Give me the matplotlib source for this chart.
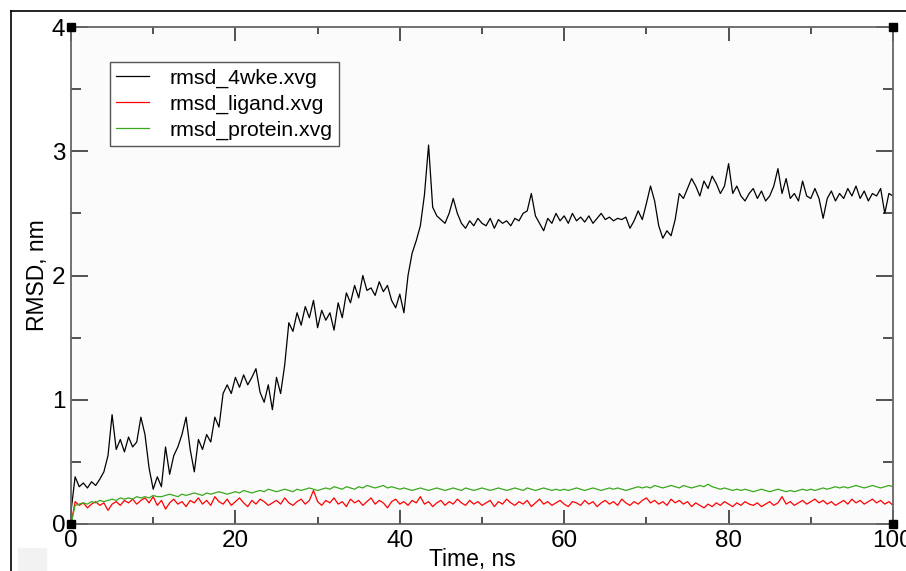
import numpy as np
import matplotlib.pyplot as plt
from matplotlib.lines import Line2D
from matplotlib.patches import Rectangle

plt.rcParams['font.family'] = ['Liberation Sans', 'DejaVu Sans']

# RMSD DATA (nm), one value every 0.5 ns from 0 to 100 ns
rmsd_4wke = [
    0.10, 0.38, 0.30, 0.33, 0.29, 0.34, 0.31, 0.36, 0.42, 0.55,
    0.88, 0.60, 0.68, 0.58, 0.70, 0.62, 0.66, 0.86, 0.72, 0.45,
    0.28, 0.38, 0.30, 0.62, 0.40, 0.55, 0.62, 0.72, 0.86, 0.60,
    0.42, 0.68, 0.60, 0.72, 0.66, 0.86, 0.78, 1.05, 1.12, 1.05,
    1.18, 1.10, 1.20, 1.12, 1.18, 1.25, 1.06, 0.98, 1.12, 0.92,
    1.18, 1.05, 1.28, 1.62, 1.55, 1.70, 1.60, 1.75, 1.66, 1.80,
    1.58, 1.72, 1.64, 1.70, 1.56, 1.78, 1.66, 1.86, 1.78, 1.92,
    1.82, 2.00, 1.88, 1.90, 1.84, 1.95, 1.87, 1.92, 1.80, 1.74,
    1.85, 1.70, 2.00, 2.18, 2.28, 2.40, 2.65, 3.05, 2.55, 2.48,
    2.45, 2.42, 2.50, 2.62, 2.50, 2.42, 2.38, 2.44, 2.40, 2.46,
    2.42, 2.40, 2.46, 2.38, 2.45, 2.42, 2.44, 2.40, 2.46, 2.44,
    2.50, 2.52, 2.66, 2.48, 2.42, 2.36, 2.46, 2.42, 2.50, 2.44,
    2.48, 2.42, 2.50, 2.44, 2.47, 2.43, 2.48, 2.42, 2.46, 2.50,
    2.45, 2.47, 2.44, 2.46, 2.45, 2.47, 2.38, 2.44, 2.52, 2.45,
    2.58, 2.72, 2.60, 2.40, 2.30, 2.36, 2.32, 2.45, 2.66, 2.62,
    2.70, 2.78, 2.72, 2.64, 2.76, 2.70, 2.80, 2.74, 2.66, 2.72,
    2.90, 2.66, 2.72, 2.64, 2.60, 2.66, 2.70, 2.62, 2.68, 2.60,
    2.64, 2.72, 2.86, 2.66, 2.78, 2.62, 2.66, 2.60, 2.76, 2.64,
    2.62, 2.70, 2.62, 2.46, 2.62, 2.68, 2.60, 2.66, 2.62, 2.70,
    2.64, 2.72, 2.62, 2.68, 2.60, 2.66, 2.64, 2.70, 2.50, 2.66,
    2.64,
]

rmsd_ligand = [
    0.00, 0.18, 0.15, 0.17, 0.13, 0.16, 0.18, 0.15, 0.17, 0.11,
    0.16, 0.18, 0.15, 0.19, 0.17, 0.20, 0.16, 0.19, 0.21, 0.17,
    0.22, 0.15, 0.19, 0.12, 0.17, 0.20, 0.16, 0.18, 0.14, 0.19,
    0.17, 0.21, 0.16, 0.19, 0.15, 0.22, 0.18, 0.16, 0.20, 0.15,
    0.18, 0.21, 0.17, 0.14, 0.19, 0.16, 0.20, 0.18, 0.15, 0.17,
    0.19, 0.16, 0.21, 0.17, 0.15, 0.18, 0.20, 0.16, 0.19, 0.27,
    0.18, 0.15, 0.19, 0.17, 0.21, 0.16, 0.18, 0.14, 0.20, 0.17,
    0.19, 0.15, 0.18, 0.21, 0.16, 0.19, 0.17, 0.13, 0.18, 0.20,
    0.16, 0.18, 0.15, 0.19, 0.17, 0.22, 0.16, 0.18, 0.14, 0.17,
    0.19, 0.15, 0.18, 0.16, 0.20, 0.17, 0.15, 0.19, 0.16, 0.18,
    0.15, 0.17, 0.19, 0.14, 0.18, 0.16, 0.20, 0.17, 0.15, 0.18,
    0.16, 0.19, 0.14, 0.17, 0.20, 0.16, 0.18, 0.15, 0.17, 0.19,
    0.16, 0.14, 0.18, 0.17, 0.15, 0.19, 0.16, 0.18, 0.14, 0.17,
    0.19, 0.16, 0.18, 0.15, 0.20, 0.17, 0.15, 0.18, 0.16, 0.19,
    0.21, 0.17, 0.19, 0.16, 0.18, 0.15, 0.20, 0.17, 0.19, 0.16,
    0.18, 0.14, 0.17, 0.15, 0.13, 0.16, 0.14, 0.17, 0.15, 0.18,
    0.16, 0.14, 0.17, 0.15, 0.18, 0.16, 0.15, 0.17, 0.14, 0.16,
    0.18, 0.15, 0.17, 0.22, 0.16, 0.18, 0.15, 0.17, 0.19, 0.16,
    0.18, 0.20, 0.17, 0.19, 0.16, 0.18, 0.15, 0.17, 0.19, 0.16,
    0.20, 0.17, 0.19, 0.16, 0.18, 0.20, 0.17, 0.19, 0.16, 0.18,
    0.15,
]

rmsd_protein = [
    0.00, 0.15, 0.16, 0.17, 0.16, 0.18, 0.17, 0.19, 0.18, 0.19,
    0.20, 0.19, 0.21, 0.20, 0.21, 0.20, 0.22, 0.21, 0.22, 0.21,
    0.23, 0.22, 0.22, 0.23, 0.24, 0.23, 0.22, 0.24, 0.23, 0.24,
    0.25, 0.24, 0.23, 0.25, 0.24, 0.25, 0.26, 0.25, 0.24, 0.25,
    0.26, 0.25, 0.27, 0.26, 0.25, 0.26, 0.27, 0.26, 0.28, 0.27,
    0.26, 0.27, 0.28, 0.27, 0.26, 0.28, 0.27, 0.28, 0.29, 0.28,
    0.27, 0.28, 0.29, 0.28, 0.30, 0.29, 0.28, 0.30, 0.29, 0.28,
    0.30, 0.29, 0.31, 0.30, 0.29, 0.30, 0.31, 0.29, 0.30, 0.29,
    0.28, 0.29, 0.28, 0.27, 0.28, 0.29, 0.28, 0.27, 0.28, 0.29,
    0.28, 0.27, 0.28, 0.29, 0.28, 0.27, 0.29, 0.28, 0.27, 0.28,
    0.29, 0.28, 0.27, 0.28, 0.29, 0.28, 0.27, 0.28, 0.29, 0.28,
    0.27, 0.29, 0.28, 0.27, 0.28, 0.29, 0.28, 0.27, 0.28, 0.27,
    0.28, 0.27, 0.28, 0.29, 0.28, 0.27, 0.28, 0.29, 0.28, 0.27,
    0.28, 0.29, 0.28, 0.29, 0.28, 0.27, 0.28, 0.29, 0.30, 0.29,
    0.30, 0.29, 0.31, 0.30, 0.29, 0.30, 0.31, 0.30, 0.29, 0.31,
    0.30, 0.29, 0.30, 0.31, 0.30, 0.32, 0.30, 0.29, 0.28, 0.29,
    0.28, 0.27, 0.28, 0.27, 0.28, 0.27, 0.26, 0.27, 0.28, 0.27,
    0.26, 0.27, 0.28, 0.27, 0.26, 0.27, 0.26, 0.27, 0.28, 0.27,
    0.28, 0.27, 0.28, 0.29, 0.28, 0.29, 0.30, 0.29, 0.30, 0.29,
    0.30, 0.31, 0.30, 0.29, 0.30, 0.31, 0.30, 0.29, 0.30, 0.31,
    0.30,
]

labels = ["rmsd_4wke.xvg", "rmsd_ligand.xvg", "rmsd_protein.xvg"]
colors = ["black", "#ff0000", "#3aa81e"]

t = np.linspace(0, 100, len(rmsd_4wke))

fig = plt.figure(figsize=(9.06, 5.71), dpi=100)
ax = fig.add_axes([71 / 906, 47 / 571, 822 / 906, 497 / 571])
ax.set_facecolor("#fbfbfb")

for y, lab, col in zip([rmsd_4wke, rmsd_ligand, rmsd_protein], labels, colors):
    ax.plot(t, y, color=col, lw=0.9, label=lab)

ax.set_xlim(0, 100)
ax.set_ylim(0, 4)
ax.set_xticks([0, 20, 40, 60, 80, 100])
ax.set_xticks([10, 30, 50, 70, 90], minor=True)
ax.set_yticks([0, 1, 2, 3, 4])
ax.set_yticks([0.5, 1.5, 2.5, 3.5], minor=True)

for s in ax.spines.values():
    s.set_color("#666666")
    s.set_linewidth(1.3)

ax.tick_params(axis="x", which="major", direction="in", length=10, width=1.3,
               color="#444444", top=True, labelsize=17.5, pad=4)
ax.tick_params(axis="x", which="minor", direction="in", length=5, width=1.3,
               color="#444444", top=True)
ax.tick_params(axis="y", which="major", direction="in", length=12, width=1.3,
               color="#444444", right=True, labelsize=17.5, pad=4)
ax.tick_params(axis="y", which="minor", direction="in", length=7, width=1.3,
               color="#444444", right=True)

ax.set_xlabel("Time, ns", fontsize=16.5)
ax.xaxis.set_label_coords(401 / 822, -24 / 497)
ax.set_ylabel("RMSD, nm", fontsize=16.5, labelpad=2)

# small black squares at the frame corners
for cx, cy in [(0, 0), (100, 0), (0, 4), (100, 4)]:
    ax.plot(cx, cy, marker="s", ms=5.5, color="black", clip_on=False, zorder=5)

leg = ax.legend(loc="upper left", bbox_to_anchor=(39 / 822, 1 - 35 / 497),
                fontsize=15.3, frameon=True, fancybox=False, borderpad=0.3,
                handlelength=1.55, handletextpad=0.95, labelspacing=0.32,
                borderaxespad=0)
leg.get_frame().set_edgecolor("#555555")
leg.get_frame().set_linewidth(1.0)
leg.get_frame().set_facecolor("white")
leg.get_frame().set_alpha(1)

# outer window frame lines
fig.add_artist(Line2D([11 / 906, 1], [1 - 11 / 571, 1 - 11 / 571],
                      color="black", lw=1.2, transform=fig.transFigure))
fig.add_artist(Line2D([11 / 906, 11 / 906], [0, 1 - 11 / 571],
                      color="black", lw=1.2, transform=fig.transFigure))
fig.add_artist(Rectangle((18 / 906, 0), 28 / 906, 23 / 571, color="#f2f2f2",
                         transform=fig.transFigure, zorder=0))

fig.savefig("out.png", dpi=100)
